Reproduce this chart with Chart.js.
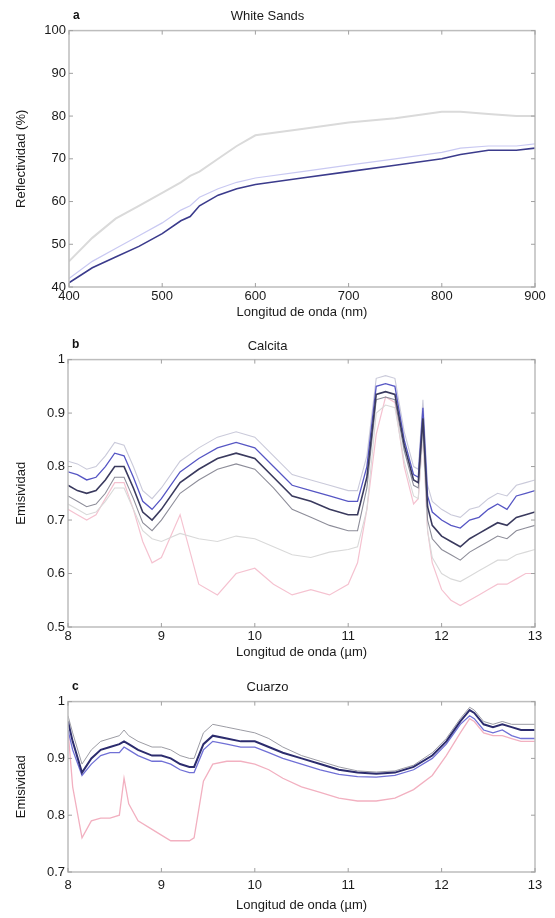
<!DOCTYPE html>
<html>
<head>
<meta charset="utf-8">
<script src="https://cdn.jsdelivr.net/npm/chart.js@4.4.1/dist/chart.umd.min.js"></script>
<style>
  body { margin: 0; background: #fff; }
  #page { position: relative; width: 555px; height: 918px; overflow: hidden; }
  canvas { position: absolute; left: 0; }
</style>
</head>
<body>
<div id="page">
  <canvas id="sandsChart" width="555" height="320" style="top:0px"></canvas>
  <canvas id="calcitaChart" width="555" height="332" style="top:328px"></canvas>
  <canvas id="cuarzoChart" width="555" height="248" style="top:670px"></canvas>
</div>
<script>
// --- a: White Sands (reflectividad, %) ---
var waveA = [400, 425, 450, 475, 500, 520, 530, 540, 560, 580, 600, 650, 700, 750, 800, 820, 850, 880, 900];
var darkA = [41, 44.5, 47, 49.5, 52.5, 55.5, 56.5, 59, 61.5, 63, 64, 65.5, 67, 68.5, 70, 71, 72, 72, 72.5];
var lightBlueA = [42, 46, 49, 52, 55, 58, 59, 61, 63, 64.5, 65.5, 67, 68.5, 70, 71.5, 72.5, 73, 73, 73.5];
var grayA = [46, 51.5, 56, 59, 62, 64.5, 66, 67, 70, 73, 75.5, 77, 78.5, 79.5, 81, 81, 80.5, 80, 80];
var ticksA = [400, 500, 600, 700, 800, 900];

// --- b: Calcita (emisividad) ---
var waveB = [8.0, 8.1, 8.2, 8.3, 8.4, 8.5, 8.6, 8.7, 8.8, 8.9, 9.0, 9.2, 9.4, 9.6, 9.8, 10.0, 10.2, 10.4, 10.6, 10.8, 11.0,
             11.1, 11.2, 11.3, 11.4, 11.5, 11.6, 11.7, 11.75, 11.8, 11.85, 11.9, 12.0, 12.1, 12.2, 12.3, 12.4, 12.5, 12.6, 12.7, 12.8, 12.9, 13.0];
var blueB = [0.79, 0.785, 0.775, 0.78, 0.80, 0.825, 0.82, 0.78, 0.735, 0.72, 0.74, 0.79, 0.815, 0.835, 0.845, 0.835, 0.80, 0.765, 0.755, 0.745, 0.735,
             0.735, 0.80, 0.95, 0.955, 0.95, 0.85, 0.785, 0.78, 0.91, 0.745, 0.715, 0.70, 0.69, 0.685, 0.70, 0.705, 0.72, 0.73, 0.72, 0.745, 0.75, 0.755];
var darkB = [0.765, 0.755, 0.75, 0.755, 0.775, 0.80, 0.80, 0.76, 0.715, 0.70, 0.72, 0.77, 0.795, 0.815, 0.825, 0.815, 0.78, 0.745, 0.735, 0.72, 0.71,
             0.71, 0.78, 0.935, 0.94, 0.935, 0.84, 0.775, 0.77, 0.89, 0.725, 0.69, 0.67, 0.66, 0.65, 0.665, 0.675, 0.685, 0.695, 0.69, 0.705, 0.71, 0.715];
var grayB = [0.745, 0.735, 0.725, 0.73, 0.75, 0.78, 0.78, 0.74, 0.695, 0.68, 0.70, 0.75, 0.775, 0.795, 0.805, 0.795, 0.76, 0.72, 0.705, 0.69, 0.68,
             0.68, 0.76, 0.925, 0.93, 0.925, 0.83, 0.765, 0.76, 0.88, 0.70, 0.665, 0.645, 0.635, 0.625, 0.64, 0.65, 0.66, 0.67, 0.665, 0.68, 0.685, 0.69];
var topB = [0.81, 0.805, 0.795, 0.80, 0.82, 0.845, 0.84, 0.80, 0.755, 0.74, 0.76, 0.81, 0.835, 0.855, 0.865, 0.855, 0.82, 0.785, 0.775, 0.765, 0.755,
            0.755, 0.82, 0.965, 0.97, 0.965, 0.865, 0.80, 0.795, 0.925, 0.765, 0.735, 0.72, 0.71, 0.705, 0.72, 0.725, 0.74, 0.75, 0.745, 0.765, 0.77, 0.775];
var lowB = [0.73, 0.72, 0.71, 0.715, 0.735, 0.76, 0.76, 0.72, 0.68, 0.665, 0.66, 0.675, 0.665, 0.66, 0.67, 0.665, 0.65, 0.635, 0.63, 0.64, 0.645,
            0.65, 0.72, 0.90, 0.915, 0.91, 0.81, 0.745, 0.74, 0.86, 0.68, 0.63, 0.60, 0.59, 0.585, 0.595, 0.605, 0.615, 0.625, 0.625, 0.635, 0.64, 0.645];
var pinkB = [0.72, 0.71, 0.70, 0.71, 0.74, 0.77, 0.77, 0.72, 0.66, 0.62, 0.63, 0.71, 0.58, 0.56, 0.60, 0.61, 0.58, 0.56, 0.57, 0.56, 0.58,
             0.62, 0.72, 0.86, 0.93, 0.92, 0.80, 0.73, 0.74, 0.86, 0.68, 0.62, 0.57, 0.55, 0.54, 0.55, 0.56, 0.57, 0.58, 0.58, 0.59, 0.60, 0.60];

// --- c: Cuarzo (emisividad) ---
var waveC = [8.0, 8.05, 8.15, 8.25, 8.35, 8.45, 8.55, 8.6, 8.65, 8.75, 8.9, 9.0, 9.1, 9.2, 9.3, 9.35, 9.45, 9.55, 9.7, 9.85,
             10.0, 10.15, 10.3, 10.5, 10.7, 10.9, 11.1, 11.3, 11.5, 11.7, 11.9, 12.05, 12.2, 12.3, 12.35, 12.45, 12.55, 12.65, 12.75, 12.85, 13.0];
var darkC = [0.965, 0.93, 0.875, 0.90, 0.915, 0.92, 0.925, 0.93, 0.925, 0.915, 0.905, 0.905, 0.90, 0.89, 0.885, 0.885, 0.925, 0.94, 0.935, 0.93,
             0.93, 0.92, 0.91, 0.90, 0.89, 0.88, 0.875, 0.873, 0.875, 0.885, 0.905, 0.93, 0.965, 0.985, 0.98, 0.96, 0.955, 0.96, 0.955, 0.95, 0.95];
var blueC = [0.95, 0.915, 0.87, 0.89, 0.905, 0.91, 0.91, 0.92, 0.915, 0.905, 0.895, 0.895, 0.89, 0.88, 0.875, 0.875, 0.915, 0.93, 0.925, 0.92,
             0.92, 0.91, 0.90, 0.89, 0.88, 0.872, 0.868, 0.867, 0.87, 0.88, 0.90, 0.925, 0.96, 0.975, 0.97, 0.95, 0.945, 0.95, 0.94, 0.935, 0.935];
var topC = [0.975, 0.945, 0.89, 0.915, 0.93, 0.935, 0.94, 0.95, 0.94, 0.93, 0.92, 0.92, 0.915, 0.905, 0.90, 0.90, 0.945, 0.96, 0.955, 0.95,
            0.945, 0.935, 0.92, 0.905, 0.895, 0.885, 0.878, 0.876, 0.878, 0.888, 0.91, 0.935, 0.97, 0.99, 0.985, 0.965, 0.96, 0.965, 0.96, 0.96, 0.96];
var pinkC = [0.95, 0.85, 0.76, 0.79, 0.795, 0.795, 0.80, 0.865, 0.82, 0.79, 0.775, 0.765, 0.755, 0.755, 0.755, 0.76, 0.86, 0.89, 0.895, 0.895,
             0.89, 0.88, 0.865, 0.85, 0.84, 0.83, 0.825, 0.825, 0.83, 0.845, 0.87, 0.905, 0.945, 0.97, 0.965, 0.945, 0.94, 0.94, 0.935, 0.93, 0.93];
var ticksUm = [8, 9, 10, 11, 12, 13];

Chart.defaults.font.family = '"Liberation Sans", Arial, sans-serif';
Chart.defaults.font.size = 13;
Chart.defaults.color = '#1a1a1a';

// box round the plot, small inward ticks, panel letter
var framePlugin = {
  id: 'panelFrame',
  afterDraw: function(chart, args, opts) {
    var ctx = chart.ctx;
    var a = chart.chartArea;
    var xs = chart.scales.x;
    var ys = chart.scales.y;
    ctx.save();
    ctx.strokeStyle = '#bdbdbd';
    ctx.lineWidth = 1.5;
    ctx.strokeRect(a.left, a.top, a.right - a.left, a.bottom - a.top);
    ctx.lineWidth = 1;
    ctx.strokeStyle = '#a0a0a0';
    ctx.beginPath();
    xs.ticks.forEach(function(t) {
      var px = xs.getPixelForValue(t.value);
      ctx.moveTo(px, a.bottom); ctx.lineTo(px, a.bottom - 4);
      ctx.moveTo(px, a.top); ctx.lineTo(px, a.top + 4);
    });
    ys.ticks.forEach(function(t) {
      var py = ys.getPixelForValue(t.value);
      ctx.moveTo(a.left, py); ctx.lineTo(a.left + 4, py);
      ctx.moveTo(a.right, py); ctx.lineTo(a.right - 4, py);
    });
    ctx.stroke();
    ctx.fillStyle = '#111';
    ctx.font = 'bold 12px "Liberation Sans", Arial, sans-serif';
    ctx.textBaseline = 'middle';
    ctx.fillText(opts.letter, a.left + 4, a.top - 15);
    ctx.restore();
  }
};

function points(xs, ys) {
  var out = [];
  for (var i = 0; i < xs.length; i++) out.push({x: xs[i], y: ys[i]});
  return out;
}

function line(xs, ys, color, width) {
  return {
    data: points(xs, ys),
    borderColor: color,
    borderWidth: width,
    pointRadius: 0,
    tension: 0,
    fill: false
  };
}

function makePanel(id, p) {
  return new Chart(document.getElementById(id), {
    type: 'line',
    data: { datasets: p.datasets },
    plugins: [framePlugin],
    options: {
      responsive: false,
      animation: false,
      events: [],
      layout: { padding: { left: 0, right: 20, top: 0, bottom: 0 } },
      plugins: {
        legend: { display: false },
        tooltip: { enabled: false },
        title: {
          display: true,
          text: p.title,
          color: '#1a1a1a',
          font: { size: 13, weight: 'normal' },
          padding: { top: p.titleTop, bottom: p.titleBottom }
        },
        panelFrame: { letter: p.letter }
      },
      scales: {
        x: {
          type: 'linear',
          min: p.xMin,
          max: p.xMax,
          afterBuildTicks: function(s) { s.ticks = p.xTicks.map(function(v) { return {value: v}; }); },
          afterFit: function(s) { s.height = p.xHeight; },
          grid: { display: false, drawTicks: false },
          border: { display: false },
          ticks: { padding: p.xTickPad, maxRotation: 0, autoSkip: false },
          title: { display: true, text: p.xTitle, padding: { top: 0, bottom: p.xTitleBottom } }
        },
        y: {
          type: 'linear',
          min: p.yMin,
          max: p.yMax,
          afterBuildTicks: function(s) { s.ticks = p.yTicks.map(function(v) { return {value: v}; }); },
          afterFit: function(s) { s.width = p.yWidth; },
          grid: { display: false, drawTicks: false },
          border: { display: false },
          ticks: { padding: 3, callback: function(v) { return String(v); } },
          title: { display: true, text: p.yTitle, padding: { top: 14, bottom: 0 } }
        }
      }
    }
  });
}

makePanel('sandsChart', {
  title: 'White Sands', letter: 'a', titleTop: 9, titleBottom: 6,
  xMin: 400, xMax: 900, xTicks: ticksA, xHeight: 33, xTickPad: 2, xTitleBottom: 0,
  xTitle: 'Longitud de onda (nm)',
  yMin: 40, yMax: 100, yTicks: [40, 50, 60, 70, 80, 90, 100], yWidth: 69,
  yTitle: 'Reflectividad (%)',
  datasets: [
    line(waveA, darkA, '#3b3b8c', 1.6),
    line(waveA, lightBlueA, '#c9c9f2', 1.2),
    line(waveA, grayA, '#dadada', 2)
  ]
});

makePanel('calcitaChart', {
  title: 'Calcita', letter: 'b', titleTop: 11, titleBottom: 5,
  xMin: 8, xMax: 13, xTicks: ticksUm, xHeight: 33, xTickPad: 2, xTitleBottom: 0,
  xTitle: 'Longitud de onda (\u00b5m)',
  yMin: 0.5, yMax: 1, yTicks: [0.5, 0.6, 0.7, 0.8, 0.9, 1], yWidth: 68,
  yTitle: 'Emisividad',
  datasets: [
    line(waveB, darkB, '#3a3a5e', 1.6),
    line(waveB, blueB, '#5656c4', 1.3),
    line(waveB, grayB, '#8d8d99', 1.1),
    line(waveB, topB, '#cacada', 1.1),
    line(waveB, lowB, '#d9d9d9', 1.1),
    line(waveB, pinkB, '#f5c2d0', 1.2)
  ]
});

makePanel('cuarzoChart', {
  title: 'Cuarzo', letter: 'c', titleTop: 10, titleBottom: 6,
  xMin: 8, xMax: 13, xTicks: ticksUm, xHeight: 46, xTickPad: 6, xTitleBottom: 5,
  xTitle: 'Longitud de onda (\u00b5m)',
  yMin: 0.7, yMax: 1, yTicks: [0.7, 0.8, 0.9, 1], yWidth: 68,
  yTitle: 'Emisividad',
  datasets: [
    line(waveC, darkC, '#2c2c6e', 2),
    line(waveC, blueC, '#7070d6', 1.3),
    line(waveC, topC, '#9c9ca4', 1),
    line(waveC, pinkC, '#f2b0c0', 1.3)
  ]
});
</script>
</body>
</html>
